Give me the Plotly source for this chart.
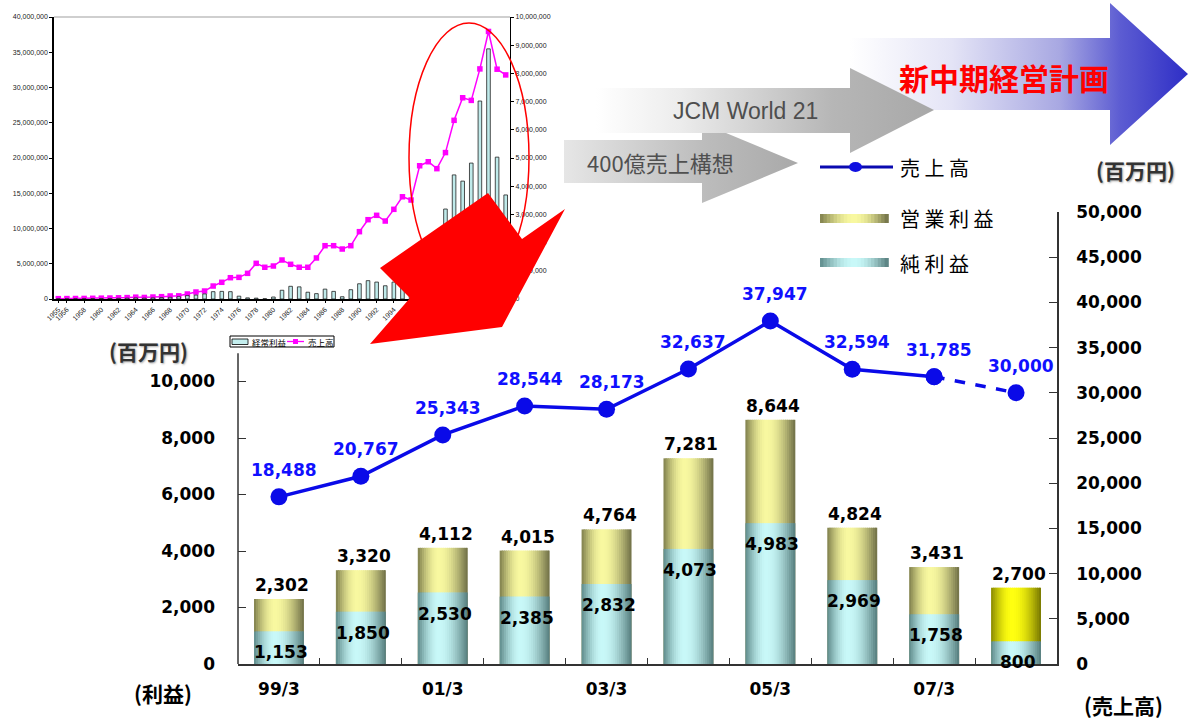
import plotly.graph_objects as go
import numpy as np

# ---------------- main chart data ----------------
periods = ["99/3", "00/3", "01/3", "02/3", "03/3", "04/3", "05/3", "06/3", "07/3", "08/3"]
period_ticklabels = ["99/3", "", "01/3", "", "03/3", "", "05/3", "", "07/3", ""]
operating_profit = [2302, 3320, 4112, 4015, 4764, 7281, 8644, 4824, 3431, 2700]
net_profit = [1153, 1850, 2530, 2385, 2832, 4073, 4983, 2969, 1758, 800]
sales = [18488, 20767, 25343, 28544, 28173, 32637, 37947, 32594, 31785, 30000]
is_plan = [False, False, False, False, False, False, False, False, False, True]
profit_ticks = [0, 2000, 4000, 6000, 8000, 10000]
sales_ticks = [0, 5000, 10000, 15000, 20000, 25000, 30000, 35000, 40000, 45000, 50000]

# ---------------- inset (history) data ----------------
hist_years = [1955, 1956, 1957, 1958, 1959, 1960, 1961, 1962, 1963, 1964, 1965, 1966, 1967,
              1968, 1969, 1970, 1971, 1972, 1973, 1974, 1975, 1976, 1977, 1978, 1979, 1980,
              1981, 1982, 1983, 1984, 1985, 1986, 1987, 1988, 1989, 1990, 1991, 1992, 1993,
              1994, 1995, 1996, 1997, 1998, 1999, 2000, 2001, 2002, 2003, 2004, 2005, 2006, 2007]
hist_sales = [50000, 60000, 70000, 80000, 100000, 120000, 140000, 170000, 200000, 260000,
              220000, 280000, 330000, 430000, 450000, 710000, 990000, 1130000, 1840000,
              2370000, 3020000, 3070000, 3640000, 5060000, 4500000, 4680000, 5530000,
              4920000, 4500000, 4500000, 5820000, 7560000, 7560000, 7090000, 7560000,
              9550000, 11250000, 11870000, 11060000, 12720000, 14500000, 14040000,
              18900000, 19470000, 18488000, 20767000, 25343000, 28544000, 28173000,
              32637000, 37947000, 32594000, 31785000]
hist_ordinary = [10000, 10000, 10000, 10000, 15000, 20000, 20000, 25000, 30000, 40000,
                 30000, 40000, 50000, 60000, 80000, 120000, 140000, 180000, 260000, 270000,
                 260000, 100000, 40000, 30000, 10000, 70000, 310000, 450000, 430000, 240000,
                 190000, 350000, 270000, 80000, 330000, 540000, 650000, 600000, 470000,
                 600000, 700000, 650000, 1600000, 1900000, 2300000, 3190000, 4400000,
                 4180000, 4820000, 7020000, 8870000, 5030000, 3690000]
hist_year_ticks = [1955, 1956, 1958, 1960, 1962, 1964, 1966, 1968, 1970, 1972, 1974, 1976,
                   1978, 1980, 1982, 1984, 1986, 1988, 1990, 1992, 1994, 1996, 1998, 2000,
                   2002, 2004, 2006]
hist_left_ticks = [0, 5000000, 10000000, 15000000, 20000000, 25000000, 30000000, 35000000, 40000000]
hist_right_ticks = [0, 1000000, 2000000, 3000000, 4000000, 5000000, 6000000, 7000000, 8000000,
                    9000000, 10000000]

W_PX, H_PX = 1188, 720
NUM_FONT = "DejaVu Sans"
JP_FONT = "Noto Sans CJK JP"


def hx(c):
    c = c.lstrip("#")
    return np.array([int(c[i:i + 2], 16) for i in (0, 2, 4)], dtype=float)


def mix(c1, c2, f):
    a, b = hx(c1), hx(c2)
    r = a + (b - a) * f
    return "#%02x%02x%02x" % tuple(int(round(v)) for v in r)


def shade(pal, t, peak=0.42):
    left, light, right = pal
    if t <= peak:
        return mix(left, light, np.sin(0.5 * np.pi * t / peak))
    return mix(right, light, np.cos(0.5 * np.pi * (t - peak) / (1 - peak)))


OP_PAL = ("#7f7f4c", "#f8f8a0", "#6e6e46")
PLAN_PAL = ("#8a8a00", "#ffff10", "#767600")
NET_PAL = ("#5e8a8a", "#c8f8f8", "#557c7c")

fig = go.Figure()

# ---------------- main stacked (overlaid) bars as cylinder strips ----------------
M = 24
BW = 0.61
for pal_kind, values in (("op", operating_profit), ("net", net_profit)):
    for j in range(M):
        t = (j + 0.5) / M
        if pal_kind == "op":
            cols = [shade(PLAN_PAL if p else OP_PAL, t) for p in is_plan]
        else:
            cols = [shade(NET_PAL, t) for _ in is_plan]
        wj = BW / M * (1.6 if j < M - 1 else 1.0)
        fig.add_trace(go.Bar(
            x=periods, y=values, xaxis="x", yaxis="y",
            width=[wj] * len(periods), offset=-BW / 2 + j * BW / M,
            marker=dict(color=cols, line=dict(width=0)),
            hoverinfo="skip", showlegend=False))

# ---------------- sales line ----------------
fig.add_trace(go.Scatter(
    x=periods[:9], y=sales[:9], xaxis="x", yaxis="y2", mode="lines+markers",
    line=dict(color="#0a0ae8", width=3.5),
    marker=dict(color="#0a0ae8", size=17, symbol="circle"),
    hoverinfo="skip", showlegend=False))
fig.add_trace(go.Scatter(
    x=periods[8:], y=sales[8:], xaxis="x", yaxis="y2", mode="lines+markers",
    line=dict(color="#0a0ae8", width=3.5, dash="dash"),
    marker=dict(color="#0a0ae8", size=17, symbol="circle"),
    hoverinfo="skip", showlegend=False))

# ---------------- inset chart ----------------
fig.add_trace(go.Bar(
    x=hist_years, y=hist_ordinary, xaxis="x2", yaxis="y4", width=0.42,
    marker=dict(color="#bfeaea", line=dict(color="#222222", width=0.8)),
    hoverinfo="skip", showlegend=False))
fig.add_trace(go.Scatter(
    x=hist_years, y=hist_sales, xaxis="x2", yaxis="y3", mode="lines+markers",
    line=dict(color="#ff00ff", width=1.5),
    marker=dict(color="#ff00ff", size=5.5, symbol="square"),
    hoverinfo="skip", showlegend=False))

# ---------------- decorative gradient arrows (pixel-coordinate overlay) ----------------
arrows = [
    # blue "new mid-term plan" arrow
    (dict(x=[850, 1110, 1110, 1188, 1110, 1110, 850, 850],
          y=[38, 38, 3, 74, 145, 110, 110, 38]),
     [[0, "#ffffff"], [0.3, "#e4e4f6"], [0.62, "#a8a8e2"], [0.8, "#5c5cd2"], [1, "#2e2ec6"]]),
    # 400億 arrow
    (dict(x=[564, 702, 702, 798, 702, 702, 564, 564],
          y=[140, 140, 123, 163, 203, 183, 183, 140]),
     [[0, "#e6e6e6"], [0.6, "#bcbcbc"], [1, "#a9a9a9"]]),
    # JCM World 21 arrow
    (dict(x=[596, 850, 850, 934, 850, 850, 596, 596],
          y=[88, 88, 68, 110, 153, 133, 133, 88]),
     [[0, "#ffffff"], [0.25, "#ececec"], [0.7, "#b6b6b6"], [1, "#a8a8a8"]]),
]
for pts, cs in arrows:
    fig.add_trace(go.Scatter(
        x=pts["x"], y=pts["y"], xaxis="x3", yaxis="y5", mode="lines", fill="toself",
        line=dict(width=0, color="rgba(0,0,0,0)"),
        fillgradient=dict(type="horizontal", colorscale=cs),
        hoverinfo="skip", showlegend=False))

shapes = []
# main left axis line (upper part hidden behind inset picture)
shapes.append(dict(type="line", xref="x domain", yref="y", x0=0, x1=0, y0=0, y1=11000,
                   line=dict(color="#333333", width=1.5)))
# inset top border
shapes.append(dict(type="line", xref="x2 domain", yref="y3 domain", x0=0, x1=1, y0=1, y1=1,
                   line=dict(color="#a0a0a0", width=1.2)))
# inset legend box
shapes += [
    dict(type="rect", xref="x3", yref="y5", x0=230, x1=334, y0=336, y1=347,
         line=dict(color="#000000", width=1), fillcolor="#ffffff"),
    dict(type="rect", xref="x3", yref="y5", x0=232, x1=248, y0=339, y1=344.5,
         line=dict(color="#000000", width=0.8), fillcolor="#c4eeee"),
    dict(type="line", xref="x3", yref="y5", x0=287, x1=304, y0=341.5, y1=341.5,
         line=dict(color="#ff00ff", width=1.3)),
    dict(type="rect", xref="x3", yref="y5", x0=293, x1=298, y0=339, y1=344,
         line=dict(width=0), fillcolor="#ff00ff"),
]
# red ellipse and big red arrow
shapes.append(dict(type="circle", xref="x3", yref="y5", x0=409, x1=529, y0=23, y1=292,
                   line=dict(color="#ff0000", width=1.5), layer="above"))
shapes.append(dict(type="path", xref="x3", yref="y5",
                   path="M 380 268 L 488 193 L 522 239 L 565 209 L 502 327 L 370 344 L 410 298 Z",
                   fillcolor="#ff0000", line=dict(width=0), layer="above"))
# main legend: line sample
shapes.append(dict(type="line", xref="x3", yref="y5", x0=820, x1=893, y0=167, y1=167,
                   line=dict(color="#0a0ab0", width=3)))
shapes.append(dict(type="circle", xref="x3", yref="y5", x0=849, x1=862, y0=162, y1=172,
                   line=dict(width=0), fillcolor="#1010e0"))
# main legend: gradient swatches
NS = 20
for (y0, y1, pal) in ((214, 223, OP_PAL), (258, 267, NET_PAL)):
    for j in range(NS):
        t = (j + 0.5) / NS
        shapes.append(dict(type="rect", xref="x3", yref="y5",
                           x0=820 + j * 68 / NS, x1=820 + (j + 1) * 68 / NS + 0.8,
                           y0=y0, y1=y1, line=dict(width=0), fillcolor=shade(pal, t, 0.5)))

annotations = []
# data labels
for i, p in enumerate(periods):
    annotations.append(dict(x=p, y=operating_profit[i], xref="x", yref="y", text=f"{operating_profit[i]:,}",
                            showarrow=False, yshift=14, xshift=3,
                            font=dict(family=NUM_FONT, size=17, color="#000000", weight="bold")))
    annotations.append(dict(x=p, y=net_profit[i], xref="x", yref="y", text=f"{net_profit[i]:,}",
                            showarrow=False, yshift=-21, xshift=2,
                            font=dict(family=NUM_FONT, size=17, color="#000000", weight="bold")))
    annotations.append(dict(x=p, y=sales[i], xref="x", yref="y2", text=f"{sales[i]:,}",
                            showarrow=False, yshift=27, xshift=5,
                            font=dict(family=NUM_FONT, size=17, color="#1010ff", weight="bold")))


def txt(x, y, s, size, color="#000000", family=JP_FONT, weight="normal", xanchor="center", shadow="none"):
    annotations.append(dict(x=x, y=y, xref="x3", yref="y5", text=s, showarrow=False,
                            xanchor=xanchor, yanchor="middle",
                            font=dict(family=family, size=size, color=color, weight=weight, shadow=shadow)))


txt(1004, 77, "新中期経営計画", 30, "#ff0000", weight="bold")
txt(745, 111, "JCM World 21", 23, "#4e4e4e", family="Liberation Sans")
txt(660, 162, "400億売上構想", 22, "#505050")
txt(898, 167, "売 上 高", 20, "#000000", xanchor="left")
txt(898, 218, "営 業 利 益", 20, "#000000", xanchor="left")
txt(898, 263, "純 利 益", 20, "#000000", xanchor="left")
txt(1135, 170, "(百万円)", 21, "#333333", weight="bold", shadow="1px 1px 2px #aaaaaa")
txt(148, 351, "(百万円)", 21, "#333333", weight="bold", shadow="1px 1px 2px #aaaaaa")
txt(163, 693, "(利益)", 21, "#000000", weight="bold")
txt(1123, 705, "(売上高)", 21, "#000000", weight="bold")
txt(250, 341.5, "経常利益", 8.5, "#000000", xanchor="left")
txt(306, 341.5, "売上高", 8.5, "#000000", xanchor="left")

tickfont_main = dict(family=NUM_FONT, size=17, color="#000000", weight="bold")
tickfont_inset = dict(family="Liberation Sans", size=7, color="#222222")

fig.update_layout(
    width=W_PX, height=H_PX,
    margin=dict(l=0, r=0, t=0, b=0, autoexpand=False),
    paper_bgcolor="#ffffff", plot_bgcolor="rgba(0,0,0,0)",
    barmode="overlay", showlegend=False,
    xaxis=dict(domain=[238 / W_PX, 1057 / W_PX], anchor="y", type="category", automargin=False,
               categoryorder="array", categoryarray=periods, range=[-0.5, 9.5],
               tickmode="array", tickvals=periods, ticktext=period_ticklabels, tickson="boundaries",
               ticks="inside", ticklen=6, tickcolor="#333333", showline=True, linecolor="#333333",
               linewidth=1.5, showgrid=False, zeroline=False, tickfont=tickfont_main,
               ticklabelstandoff=9),
    yaxis=dict(domain=[1 - 664 / H_PX, 1 - 212 / H_PX], anchor="x", range=[0, 16000], automargin=False,
               tickmode="array", tickvals=profit_ticks, ticktext=[f"{v:,}" for v in profit_ticks],
               ticks="inside", ticklen=8, tickcolor="#333333", showline=False, showgrid=False,
               zeroline=False, tickfont=tickfont_main, ticklabelstandoff=22),
    yaxis2=dict(overlaying="y", anchor="x", side="right", range=[0, 50000], automargin=False,
                tickmode="array", tickvals=sales_ticks, ticktext=[f"{v:,}" for v in sales_ticks],
                ticks="inside", ticklen=8, tickcolor="#333333", showline=True, linecolor="#333333",
                linewidth=1.5, showgrid=False, zeroline=False, tickfont=tickfont_main,
                ticklabelstandoff=14),
    xaxis2=dict(domain=[54 / W_PX, 510 / W_PX], anchor="y3", range=[1954.5, 2007.5], automargin=False,
                tickmode="array", tickvals=hist_year_ticks, ticktext=[str(v) for v in hist_year_ticks],
                tickangle=-45, ticks="outside", ticklen=2, tickcolor="#000000",
                showline=True, linecolor="#000000", linewidth=1.5, showgrid=False, zeroline=False,
                tickfont=tickfont_inset),
    yaxis3=dict(domain=[1 - 299 / H_PX, 1 - 17 / H_PX], anchor="x2", range=[0, 40000000], automargin=False,
                tickmode="array", tickvals=hist_left_ticks, ticktext=[f"{v:,}" for v in hist_left_ticks],
                ticks="outside", ticklen=3, tickcolor="#000000", showline=True, linecolor="#000000",
                linewidth=1.5, showgrid=False, zeroline=False, tickfont=tickfont_inset),
    yaxis4=dict(overlaying="y3", anchor="x2", side="right", range=[0, 10000000], automargin=False,
                tickmode="array", tickvals=hist_right_ticks, ticktext=[f"{v:,}" for v in hist_right_ticks],
                ticks="outside", ticklen=3, tickcolor="#000000", showline=True, linecolor="#000000",
                linewidth=1.2, showgrid=False, zeroline=False, tickfont=tickfont_inset),
    xaxis3=dict(domain=[0, 1], anchor="y5", range=[0, W_PX], visible=False, fixedrange=True,
                automargin=False),
    yaxis5=dict(domain=[0, 1], anchor="x3", range=[H_PX, 0], visible=False, fixedrange=True,
                automargin=False),
    shapes=shapes,
    annotations=annotations,
)

fig.write_html("out.html")
